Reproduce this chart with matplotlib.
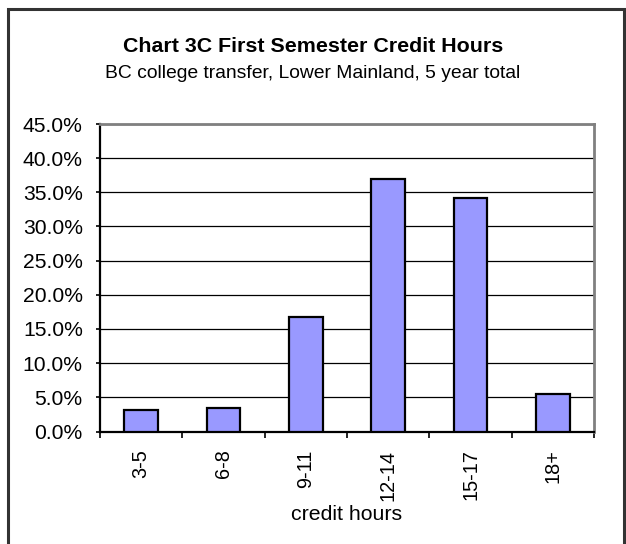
import matplotlib.pyplot as plt
from matplotlib.patches import Rectangle
from matplotlib.ticker import PercentFormatter, FixedLocator, NullFormatter

plt.rcParams['font.family'] = ['Liberation Sans', 'DejaVu Sans']

categories = ["3-5", "6-8", "9-11", "12-14", "15-17", "18+"]
shares = [3.1, 3.4, 16.8, 36.9, 34.1, 5.5]

W, H = 626, 544
fig = plt.figure(figsize=(W / 100, H / 100), dpi=100)
fig.patch.set_facecolor("white")

# outer chart frame
fig.patches.append(Rectangle((8 / W, -0.05), 616 / W, (H - 9) / H + 0.05,
                             transform=fig.transFigure, fill=False,
                             edgecolor="#333333", linewidth=2.2))

ax = fig.add_axes([100 / W, (H - 431.5) / H, 494 / W, 307.5 / H])
x = range(len(categories))
ax.bar(x, shares, width=0.41, color="#9999FF", edgecolor="black",
       linewidth=1.6, zorder=3)

ax.set_xlim(-0.5, len(categories) - 0.5)
ax.set_ylim(0, 45)
ax.set_yticks(range(0, 46, 5))
ax.yaxis.set_major_formatter(PercentFormatter(decimals=1))
ax.yaxis.grid(True, color="black", linewidth=0.9, zorder=0)
ax.set_axisbelow(True)

ax.set_xticks(list(x))
ax.set_xticklabels(categories, rotation=90)
ax.xaxis.set_minor_locator(FixedLocator([i - 0.5 for i in range(len(categories) + 1)]))
ax.xaxis.set_minor_formatter(NullFormatter())
ax.tick_params(axis="x", which="major", length=0, pad=13, labelsize=14.3)
ax.tick_params(axis="x", which="minor", length=4.5, width=1.2, color="black")
ax.tick_params(axis="y", length=3, width=1.2, pad=9.4, labelsize=15.2)

for side in ("top", "right"):
    ax.spines[side].set_color("#808080")
    ax.spines[side].set_linewidth(2)
for side in ("left", "bottom"):
    ax.spines[side].set_color("black")
    ax.spines[side].set_linewidth(1.6)

ax.set_xlabel("credit hours", fontsize=15.3, labelpad=3)

fig.text(0.5, 1 - 47 / H, "Chart 3C First Semester Credit Hours",
         ha="center", va="center", fontsize=15.4, fontweight="bold")
fig.text(0.5, 1 - 74 / H, "BC college transfer, Lower Mainland, 5 year total",
         ha="center", va="center", fontsize=13.9)

fig.savefig("out.png", dpi=100)
